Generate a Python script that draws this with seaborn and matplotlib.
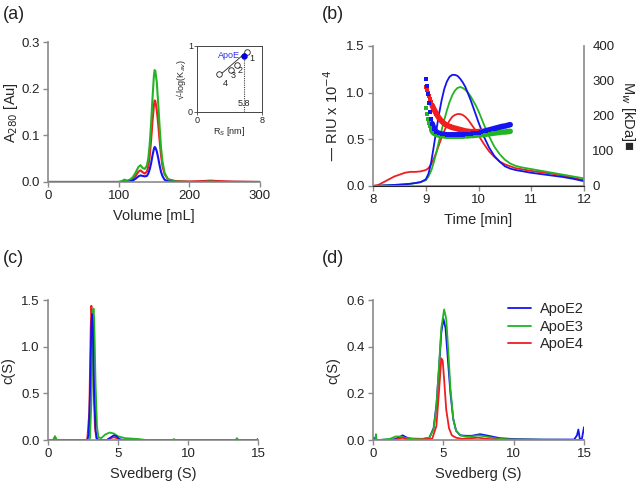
import numpy as np
import pandas as pd
import matplotlib
matplotlib.use("Agg")
import matplotlib.pyplot as plt
import seaborn as sns

sns.set_style("ticks")
plt.rcParams['font.family'] = ['Liberation Sans', 'DejaVu Sans']

BLUE, GREEN, RED = '#1414f0', '#22b422', '#f01e1e'
GRAY = '#8a8a8a'

# ---------------- (a) SEC chromatogram ----------------
vol_a = [0, 100, 105, 108, 112, 116, 120, 124, 128, 131, 134, 137, 140, 142, 144, 146, 148, 150,
         151, 152, 154, 156, 158, 160, 162, 165, 170, 180, 200, 220, 230, 240, 260, 300]
a_green = [0, 0, 0.002, 0.005, 0.003, 0.005, 0.010, 0.020, 0.032, 0.036, 0.030, 0.028, 0.035, 0.050,
           0.080, 0.125, 0.180, 0.228, 0.240, 0.238, 0.215, 0.170, 0.120, 0.075, 0.045, 0.020, 0.005,
           0.001, 0, 0, 0.001, 0, 0, 0]
a_red = [0, 0, 0, 0.001, 0.001, 0.003, 0.006, 0.013, 0.022, 0.025, 0.021, 0.018, 0.022, 0.033,
         0.055, 0.090, 0.130, 0.165, 0.175, 0.173, 0.155, 0.125, 0.090, 0.058, 0.035, 0.017, 0.006,
         0.002, 0.001, 0.002, 0.003, 0.002, 0.001, 0]
a_blue = [0, 0, 0, 0, 0, 0.001, 0.003, 0.007, 0.012, 0.014, 0.013, 0.012, 0.013, 0.018,
          0.027, 0.040, 0.057, 0.071, 0.075, 0.074, 0.066, 0.052, 0.036, 0.022, 0.013, 0.005, 0.001,
          0, 0, 0, 0, 0, 0, 0]

# inset: calibration
inset_rs = [6.2, 4.9, 4.15, 2.75]
inset_k = [0.91, 0.71, 0.64, 0.57]
inset_lbl = ['1', '2', '3', '4']
apoe_rs, apoe_k = 5.8, 0.85

# ---------------- (b) SEC-MALS ----------------
t_ri = [8.0, 8.1, 8.2, 8.3, 8.4, 8.5, 8.6, 8.7, 8.8, 8.9, 9.0, 9.05, 9.1, 9.15, 9.2, 9.25, 9.3, 9.35, 9.4,
        9.45, 9.5, 9.55, 9.6, 9.65, 9.7, 9.75, 9.8, 9.85, 9.9, 9.95, 10.0, 10.1, 10.2, 10.3, 10.4, 10.5,
        10.6, 10.7, 10.8, 10.9, 11.0, 11.2, 11.4, 11.6, 11.8, 12.0]
ri_red = [0.0, 0.01, 0.04, 0.07, 0.10, 0.12, 0.14, 0.15, 0.15, 0.155, 0.17, 0.19, 0.23, 0.29, 0.36, 0.44,
          0.52, 0.59, 0.65, 0.70, 0.74, 0.76, 0.77, 0.77, 0.76, 0.74, 0.71, 0.67, 0.63, 0.59, 0.54, 0.45,
          0.37, 0.31, 0.26, 0.23, 0.21, 0.19, 0.18, 0.17, 0.16, 0.145, 0.13, 0.11, 0.085, 0.06]
ri_green = [0.0, 0.0, 0.005, 0.007, 0.01, 0.013, 0.017, 0.022, 0.03, 0.04, 0.06, 0.10, 0.16, 0.25, 0.36, 0.48,
            0.60, 0.71, 0.81, 0.90, 0.97, 1.02, 1.05, 1.06, 1.05, 1.03, 1.00, 0.96, 0.91, 0.86, 0.80, 0.66,
            0.53, 0.42, 0.34, 0.28, 0.24, 0.215, 0.20, 0.19, 0.18, 0.16, 0.14, 0.12, 0.10, 0.08]
ri_blue = [0.0, 0.0, 0.005, 0.007, 0.01, 0.013, 0.017, 0.022, 0.03, 0.04, 0.07, 0.13, 0.25, 0.42, 0.60, 0.77,
           0.92, 1.04, 1.12, 1.17, 1.19, 1.19, 1.18, 1.15, 1.11, 1.06, 0.99, 0.92, 0.84, 0.76, 0.68, 0.53,
           0.41, 0.32, 0.26, 0.21, 0.185, 0.17, 0.16, 0.15, 0.14, 0.125, 0.11, 0.095, 0.075, 0.05]

t_mw_blue = [9.0, 9.02, 9.04, 9.06, 9.08, 9.1, 9.12, 9.15, 9.2, 9.25, 9.3, 9.35, 9.4, 9.45, 9.5, 9.55, 9.6,
             9.65, 9.7, 9.75, 9.8, 9.85, 9.9, 9.95, 10.0, 10.05, 10.1, 10.15, 10.2, 10.25, 10.3, 10.35,
             10.4, 10.45, 10.5, 10.55, 10.6]
mw_blue = [305, 285, 262, 237, 212, 192, 178, 164, 154, 150, 148, 147, 146, 146, 146, 146, 146,
           146, 146, 147, 148, 149, 150, 151, 152, 154, 156, 158, 160, 162, 164, 166, 168, 170, 171, 173, 175]
t_mw_red = [9.0, 9.02, 9.04, 9.06, 9.08, 9.1, 9.12, 9.15, 9.2, 9.25, 9.3, 9.35, 9.4, 9.45, 9.5, 9.55, 9.6,
            9.65, 9.7, 9.75, 9.8, 9.85, 9.9, 9.95, 10.0, 10.05]
mw_red = [283, 275, 266, 257, 248, 240, 230, 220, 206, 194, 185, 178, 173, 170, 167, 165, 163,
          161, 159, 157, 156, 155, 155, 155, 155, 156]
t_mw_green = [9.0, 9.02, 9.04, 9.06, 9.08, 9.1, 9.12, 9.15, 9.2, 9.25, 9.3, 9.35, 9.4, 9.45, 9.5, 9.55, 9.6,
              9.65, 9.7, 9.75, 9.8, 9.85, 9.9, 9.95, 10.0, 10.05, 10.1, 10.15, 10.2, 10.25, 10.3, 10.35,
              10.4, 10.45, 10.5, 10.55, 10.6]
mw_green = [223, 205, 190, 180, 170, 162, 156, 151, 147, 145, 144, 143, 142, 142, 142, 142, 142,
            142, 142, 143, 143, 144, 144, 145, 146, 146, 147, 148, 149, 150, 151, 152, 153, 154, 154, 155, 156]

# ---------------- (c) c(S) ----------------
s_c_red = [0, 0.4, 0.5, 0.6, 0.8, 2.8, 2.95, 3.05, 3.1, 3.15, 3.25, 3.35, 3.45, 3.6, 4.2, 4.5, 4.7, 4.9, 5.2, 15]
c_red = [0, 0, 0.04, 0, 0, 0, 0.3, 1.2, 1.44, 1.3, 0.6, 0.15, 0.02, 0, 0, 0.02, 0.03, 0.02, 0, 0]
s_c_green = [0, 0.35, 0.5, 0.65, 2.9, 3.0, 3.1, 3.2, 3.25, 3.3, 3.4, 3.5, 3.6, 3.8, 4.1, 4.4, 4.7, 5.0,
             5.5, 6.0, 6.5, 7.0, 8.9, 9.0, 9.1, 13.4, 13.5, 13.6, 15]
c_green = [0, 0, 0.035, 0, 0, 0.02, 0.4, 1.3, 1.41, 1.3, 0.6, 0.15, 0.03, 0.02, 0.06, 0.08, 0.07, 0.04,
           0.02, 0.015, 0.01, 0, 0, 0.01, 0, 0, 0.02, 0, 0]
s_c_blue = [0, 2.8, 2.9, 3.0, 3.1, 3.15, 3.2, 3.3, 3.4, 3.5, 3.7, 4.2, 4.5, 4.7, 4.9, 5.1, 5.4, 14.9, 15]
c_blue = [0, 0, 0.05, 0.5, 1.25, 1.35, 1.2, 0.5, 0.1, 0.01, 0, 0, 0.03, 0.05, 0.04, 0.01, 0, 0, 0.01]

# ---------------- (d) c(S) ----------------
s_d_blue = [0, 0.05, 0.1, 0.15, 0.3, 1.5, 1.8, 2.1, 2.4, 2.8, 3.5, 4.0, 4.3, 4.5, 4.7, 4.85, 5.0, 5.15,
            5.3, 5.5, 5.7, 5.9, 6.2, 6.6, 7.0, 7.6, 8.2, 9, 10, 12, 14.3, 14.5, 14.6, 14.7, 14.85, 15.0]
d_blue = [0, 0.01, 0.0, 0, 0, 0.003, 0.01, 0.02, 0.01, 0.004, 0.003, 0.01, 0.05, 0.15, 0.32, 0.46, 0.52,
          0.48, 0.36, 0.2, 0.09, 0.04, 0.02, 0.018, 0.018, 0.025, 0.018, 0.008, 0.004, 0.002, 0.002, 0.02,
          0.045, 0.005, 0.005, 0.055]
s_d_green = [0, 0.15, 0.2, 0.25, 0.5, 1.2, 1.6, 1.9, 2.3, 3.0, 3.5, 4.0, 4.3, 4.5, 4.7, 4.85, 5.05, 5.2,
             5.35, 5.5, 5.7, 5.9, 6.2, 6.6, 7.0, 7.5, 8.0, 8.8, 10, 15]
d_green = [0, 0, 0.025, 0, 0, 0.005, 0.015, 0.015, 0.008, 0.006, 0.005, 0.01, 0.045, 0.14, 0.33, 0.48,
           0.56, 0.52, 0.38, 0.22, 0.09, 0.04, 0.02, 0.015, 0.015, 0.02, 0.015, 0.006, 0.002, 0]
s_d_red = [0, 1.5, 1.8, 2.1, 2.5, 4.2, 4.5, 4.7, 4.85, 4.95, 5.05, 5.2, 5.4, 5.6, 5.9, 6.3, 7.0, 7.5, 8.0, 9, 15]
d_red = [0, 0, 0.005, 0.01, 0, 0.005, 0.06, 0.22, 0.35, 0.34, 0.26, 0.13, 0.05, 0.02, 0.01, 0.005, 0.008,
         0.01, 0.005, 0.001, 0]

labels = ['ApoE2', 'ApoE3', 'ApoE4']

fig = plt.figure(figsize=(6.4, 4.84), dpi=100)

TICK_FS = 9.5
LAB_FS = 10.5
XPAD = 5


def style(ax, right=False):
    sns.despine(ax=ax, right=not right, top=True)
    for side in ['left', 'bottom', 'right']:
        ax.spines[side].set_color(GRAY)
        ax.spines[side].set_linewidth(1.2)
    ax.tick_params(axis='both', colors=GRAY, labelcolor='#222222', labelsize=TICK_FS,
                   length=3.5, width=1.0, pad=2.5)


def line(ax, x, y, c, lw=1.3, label=None):
    sns.lineplot(x=x, y=y, ax=ax, color=c, lw=lw, label=label, legend=False,
                 estimator=None, sort=False)


# (a)
axa = fig.add_axes([0.075, 0.624, 0.331, 0.289])
line(axa, vol_a, a_red, RED, 1.5)
line(axa, vol_a, a_green, GREEN, 1.5)
line(axa, vol_a, a_blue, BLUE, 1.5)
axa.set_xlim(0, 300)
axa.set_ylim(0, 0.3)
axa.set_xticks([0, 100, 200, 300])
axa.set_yticks([0, 0.1, 0.2, 0.3])
axa.set_yticklabels(['0.0', '0.1', '0.2', '0.3'])
axa.set_xlabel('Volume [mL]', fontsize=LAB_FS, labelpad=XPAD)
axa.set_ylabel('A$_{280}$ [Au]', fontsize=LAB_FS, labelpad=1)
style(axa)

# inset
axi = fig.add_axes([0.308, 0.769, 0.101, 0.136])
line(axi, [2.75, 6.2], [0.55, 0.92], '#222222', 0.6)
sns.scatterplot(x=inset_rs, y=inset_k, ax=axi, marker='o', s=16, facecolor='white',
                edgecolor='#222222', linewidth=0.6, zorder=3)
sns.scatterplot(x=[apoe_rs], y=[apoe_k], ax=axi, marker='o', s=18, color='#0000dd',
                edgecolor='#0000dd', zorder=4)
axi.plot([5.8, 5.8], [0, apoe_k], ls=(0, (1, 1)), color='#444444', lw=0.8)
lbl_pos = {'1': (6.75, 0.81), '2': (5.3, 0.62), '3': (4.5, 0.545), '4': (3.45, 0.43)}
for lb in inset_lbl:
    xx, yy = lbl_pos[lb]
    axi.text(xx, yy, lb, fontsize=6.5, ha='center', va='center', color='#222222')
axi.text(5.3, 0.86, 'ApoE', fontsize=6.5, color='#3030ee', ha='right', va='center')
axi.text(5.8, 0.13, '5.8', fontsize=6.5, ha='center', va='center', color='#222222')
axi.set_xlim(0, 8)
axi.set_ylim(0, 1)
axi.set_xticks([0, 8])
axi.set_yticks([0, 1])
axi.tick_params(labelsize=6.5, length=2, width=0.6, pad=1, colors='#444444', labelcolor='#222222')
for s in axi.spines.values():
    s.set_color('#444444')
    s.set_linewidth(0.7)
axi.set_xlabel('R$_S$ [nm]', fontsize=6.5, labelpad=0)
axi.set_ylabel('√-log(K$_{av}$)', fontsize=6.5, labelpad=0)

# (b)
axb = fig.add_axes([0.583, 0.616, 0.3295, 0.289])
line(axb, t_ri, ri_red, RED, 1.3)
line(axb, t_ri, ri_green, GREEN, 1.3)
line(axb, t_ri, ri_blue, BLUE, 1.3)
axb.set_xlim(8, 12)
axb.set_ylim(0, 1.5)
axb.set_xticks([8, 9, 10, 11, 12])
axb.set_yticks([0, 0.5, 1.0, 1.5])
axb.set_yticklabels(['0.0', '0.5', '1.0', '1.5'])
axb.set_xlabel('Time [min]', fontsize=LAB_FS, labelpad=XPAD)
axb.set_ylabel('— RIU x 10$^{-4}$', fontsize=LAB_FS, labelpad=4)
style(axb)
axb.spines['right'].set_visible(False)

axb2 = axb.twinx()
for tx, my, c in [(t_mw_green, mw_green, GREEN), (t_mw_red, mw_red, RED), (t_mw_blue, mw_blue, BLUE)]:
    line(axb2, tx[6:], my[6:], c, 4.0)
    sns.scatterplot(x=tx, y=my, ax=axb2, marker='s', s=9, color=c, edgecolor=c, linewidth=0, zorder=3)
axb2.set_ylim(0, 400)
axb2.set_yticks([0, 100, 200, 300, 400])
axb2.set_ylabel('M$_w$ [kDa]■', fontsize=LAB_FS, rotation=270, labelpad=16)
sns.despine(ax=axb2, right=False, top=True, left=True)
axb2.spines['right'].set_color(GRAY)
axb2.spines['right'].set_linewidth(1.2)
axb2.tick_params(axis='y', colors=GRAY, labelcolor='#222222', labelsize=TICK_FS, length=3.5, width=1.0, pad=2.5)

# (c)
axc = fig.add_axes([0.075, 0.0909, 0.328, 0.289])
line(axc, s_c_red, c_red, RED, 1.3)
line(axc, s_c_green, c_green, GREEN, 1.3)
line(axc, s_c_blue, c_blue, BLUE, 1.3)
axc.set_xlim(0, 15)
axc.set_ylim(0, 1.5)
axc.set_xticks([0, 5, 10, 15])
axc.set_yticks([0, 0.5, 1.0, 1.5])
axc.set_yticklabels(['0.0', '0.5', '1.0', '1.5'])
axc.set_xlabel('Svedberg (S)', fontsize=LAB_FS, labelpad=XPAD)
axc.set_ylabel('c(S)', fontsize=LAB_FS, labelpad=4)
style(axc)

# (d)
axd = fig.add_axes([0.583, 0.0909, 0.3295, 0.289])
line(axd, s_d_blue, d_blue, BLUE, 1.3, labels[0])
line(axd, s_d_green, d_green, GREEN, 1.3, labels[1])
line(axd, s_d_red, d_red, RED, 1.3, labels[2])
axd.set_xlim(0, 15)
axd.set_ylim(0, 0.6)
axd.set_xticks([0, 5, 10, 15])
axd.set_yticks([0, 0.2, 0.4, 0.6])
axd.set_yticklabels(['0.0', '0.2', '0.4', '0.6'])
axd.set_xlabel('Svedberg (S)', fontsize=LAB_FS, labelpad=XPAD)
axd.set_ylabel('c(S)', fontsize=LAB_FS, labelpad=4)
style(axd)
axd.legend(frameon=False, fontsize=10.5, loc='upper right', bbox_to_anchor=(1.06, 1.08),
           handlelength=1.6, handletextpad=0.6, labelspacing=0.25)

for x, y, t in [(0.004, 0.970, '(a)'), (0.503, 0.970, '(b)'), (0.004, 0.466, '(c)'), (0.503, 0.466, '(d)')]:
    fig.text(x, y, t, fontsize=13, ha='left', va='center', color='#222222')

fig.savefig('out.png', dpi=100)
